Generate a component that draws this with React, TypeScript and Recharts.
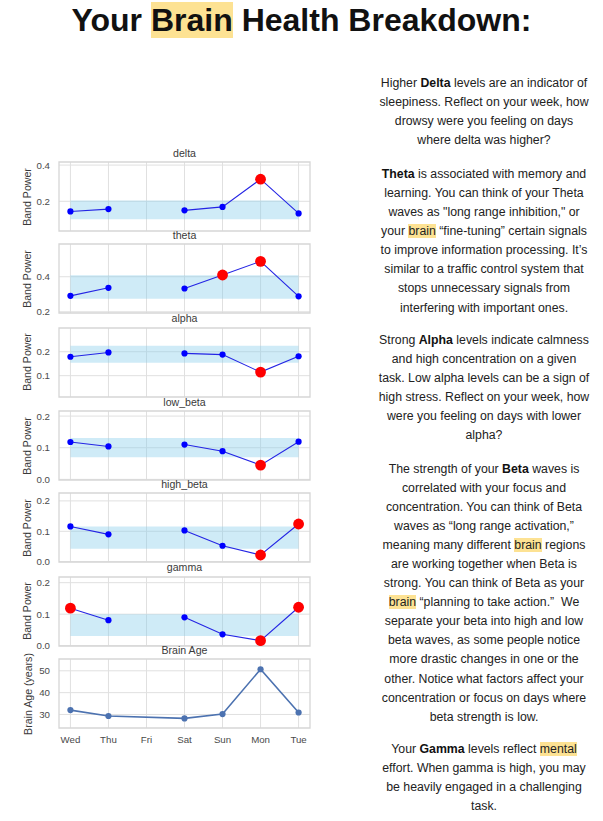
import React from 'react';
import { LineChart, Line, XAxis, YAxis, CartesianGrid, ReferenceArea } from 'recharts';

// ---------- data ----------
const days = ['Wed', 'Thu', 'Fri', 'Sat', 'Sun', 'Mon', 'Tue'];

const deltaValues = [0.144, 0.157, null, 0.15, 0.169, 0.322, 0.133];
const thetaValues = [0.291, 0.337, null, 0.333, 0.41, 0.488, 0.288];
const alphaValues = [0.179, 0.197, null, 0.193, 0.188, 0.115, 0.181];
const lowBetaValues = [0.118, 0.104, null, 0.11, 0.089, 0.045, 0.119];
const highBetaValues = [0.116, 0.09, null, 0.103, 0.0525, 0.022, 0.124];
const gammaValues = [0.119, 0.081, null, 0.09, 0.036, 0.016, 0.122];
const brainAgeValues = [32.0, 29.3, null, 28.2, 30.2, 50.7, 30.9];

const deltaHighlights = ['Mon'];
const thetaHighlights = ['Sun', 'Mon'];
const alphaHighlights = ['Mon'];
const lowBetaHighlights = ['Mon'];
const highBetaHighlights = ['Mon', 'Tue'];
const gammaHighlights = ['Wed', 'Mon', 'Tue'];

const deltaBand = [0.101, 0.204];
const thetaBand = [0.275, 0.408];
const alphaBand = [0.154, 0.225];
const lowBetaBand = [0.07, 0.131];
const highBetaBand = [0.043, 0.116];
const gammaBand = [0.031, 0.1];

const deltaTicks = [0.2, 0.4];
const thetaTicks = [0.2, 0.4];
const alphaTicks = [0.1, 0.2];
const lowBetaTicks = [0.0, 0.1, 0.2];
const highBetaTicks = [0.0, 0.1, 0.2];
const gammaTicks = [0.0, 0.1, 0.2];
const brainAgeTicks = [30, 40, 50];

const deltaDomain = [0.036, 0.417];
const thetaDomain = [0.193, 0.587];
const alphaDomain = [0.011, 0.299];
const lowBetaDomain = [-0.002, 0.216];
const highBetaDomain = [-0.001, 0.226];
const gammaDomain = [-0.001, 0.218];
const brainAgeDomain = [23.8, 55.4];

const xTicks = days.map((_, i) => i);

// ---------- text ----------
const titleParts = ['Your ', '[[Brain]]', ' Health Breakdown:'];

const para1 = [
  'Higher **Delta** levels are an indicator of',
  'sleepiness. Reflect on your week, how',
  'drowsy were you feeling on days',
  'where delta was higher?',
];
const para2 = [
  '**Theta** is associated with memory and',
  'learning. You can think of your Theta',
  'waves as "long range inhibition," or',
  'your [[brain]] \u201cfine-tuning\u201d certain signals',
  'to improve information processing. It\u2019s',
  'similar to a traffic control system that',
  'stops unnecessary signals from',
  'interfering with important ones.',
];
const para3 = [
  'Strong **Alpha** levels indicate calmness',
  'and high concentration on a given',
  'task. Low alpha levels can be a sign of',
  'high stress. Reflect on your week, how',
  'were you feeling on days with lower',
  'alpha?',
];
const para4 = [
  'The strength of your **Beta** waves is',
  'correlated with your focus and',
  'concentration. You can think of Beta',
  'waves as \u201clong range activation,\u201d',
  'meaning many different [[brain]] regions',
  'are working together when Beta is',
  'strong. You can think of Beta as your',
  '[[brain]] \u201cplanning to take action.\u201d  We',
  'separate your beta into high and low',
  'beta waves, as some people notice',
  'more drastic changes in one or the',
  'other. Notice what factors affect your',
  'concentration or focus on days where',
  'beta strength is low.',
];
const para5 = [
  'Your **Gamma** levels reflect [[mental]]',
  'effort. When gamma is high, you may',
  'be heavily engaged in a challenging',
  'task.',
];

// ---------- styles / layout ----------
const FONT = '"Liberation Sans", Arial, Helvetica, sans-serif';
const HIGHLIGHT = '#fde293';
const GRID = '#e0e0e0';
const SPINE = '#d6d6d6';
const LABEL_COLOR = '#3a3a3a';
const TICK_COLOR = '#4a4a4a';
const PLOT_H = 69;
const CHART_W = 320;
const Y_AXIS_W = 59;
const MARGIN = { top: 5, right: 10, bottom: 5, left: 0 };

function renderRich(line: string, key: number) {
  const parts = line.split(/(\*\*[^*]+\*\*|\[\[[^\]]+\]\])/).filter((p) => p.length > 0);
  return (
    <div key={key} style={{ whiteSpace: 'pre', height: 19.1, lineHeight: '19.1px' }}>
      {parts.map((p, i) => {
        if (p.startsWith('**')) return <b key={i} style={{ color: '#111' }}>{p.slice(2, -2)}</b>;
        if (p.startsWith('[[')) return <span key={i} style={{ background: HIGHLIGHT }}>{p.slice(2, -2)}</span>;
        return <span key={i}>{p}</span>;
      })}
    </div>
  );
}

function Paragraph({ lines, centerY }: { lines: string[]; centerY: number }) {
  return (
    <div
      style={{
        position: 'absolute',
        left: 364,
        width: 240,
        top: centerY - 9.8,
        textAlign: 'center',
        fontSize: 12.3,
        color: '#222',
        fontFamily: FONT,
      }}
    >
      {lines.map((l, i) => renderRich(l, i))}
    </div>
  );
}

function YLabel({ text, cx, cy }: { text: string; cx: number; cy: number }) {
  return (
    <div
      style={{
        position: 'absolute',
        left: cx,
        top: cy,
        transform: 'translate(-50%, -50%) rotate(-90deg)',
        whiteSpace: 'nowrap',
        fontSize: 10.6,
        color: LABEL_COLOR,
        lineHeight: '12px',
      }}
    >
      {text}
    </div>
  );
}

function PanelTitle({ text, plotTop }: { text: string; plotTop: number }) {
  return (
    <div
      style={{
        position: 'absolute',
        left: Y_AXIS_W,
        width: CHART_W - Y_AXIS_W - MARGIN.right,
        top: plotTop - 15.5,
        textAlign: 'center',
        fontSize: 10.6,
        lineHeight: '12px',
        color: LABEL_COLOR,
      }}
    >
      {text}
    </div>
  );
}

const renderBandDot = (props: any) => {
  const { cx, cy, payload, index } = props;
  if (cy == null || cx == null || payload == null || payload.v == null) return <g key={`d-${index}`} />;
  return (
    <circle
      key={`d-${index}`}
      cx={cx}
      cy={cy}
      r={payload.hl ? 5.4 : 3.1}
      fill={payload.hl ? '#ff0000' : '#0000ff'}
      stroke="none"
    />
  );
};

type BandProps = {
  title: string;
  values: (number | null)[];
  highlights: string[];
  band: number[];
  ticks: number[];
  domain: number[];
  plotTop: number;
};

function BandPanel({ title, values, highlights, band, ticks, domain, plotTop }: BandProps) {
  const data = days.map((d, i) => ({ x: i, day: d, v: values[i], hl: highlights.includes(d) }));
  return (
    <>
      <PanelTitle text={title} plotTop={plotTop} />
      <YLabel text="Band Power" cx={26.7} cy={plotTop + PLOT_H / 2} />
      <div style={{ position: 'absolute', left: 0, top: plotTop - MARGIN.top }}>
        <LineChart width={CHART_W} height={PLOT_H + MARGIN.top + MARGIN.bottom} data={data} margin={MARGIN}>
          <CartesianGrid stroke={GRID} strokeWidth={1} verticalValues={xTicks} horizontalValues={ticks} />
          <XAxis
            type="number"
            dataKey="x"
            domain={[-0.3, 6.3]}
            ticks={xTicks}
            hide
            allowDataOverflow
          />
          <YAxis
            type="number"
            domain={domain}
            ticks={ticks}
            interval={0}
            allowDataOverflow
            width={Y_AXIS_W}
            tickFormatter={(v: number) => v.toFixed(1)}
            tick={{ fontSize: 9.7, fill: TICK_COLOR }}
            tickLine={false}
            tickSize={0}
            tickMargin={9}
            axisLine={false}
          />
          <ReferenceArea x1={0} x2={6} y1={band[0]} y2={band[1]} fill="#87ceeb" fillOpacity={0.4} stroke="none" />
          <ReferenceArea
            x1={-0.3}
            x2={6.3}
            y1={domain[0]}
            y2={domain[1]}
            fill="none"
            stroke={SPINE}
            strokeWidth={1.3}
          />
          <Line
            dataKey="v"
            stroke="none"
            dot={renderBandDot}
            activeDot={false}
            isAnimationActive={false}
          />
          <Line
            dataKey="v"
            stroke="#2424e4"
            strokeWidth={1.1}
            dot={false}
            activeDot={false}
            isAnimationActive={false}
          />
        </LineChart>
      </div>
    </>
  );
}

function BrainAgePanel({ plotTop }: { plotTop: number }) {
  const data = days.map((d, i) => ({ x: i, day: d, v: brainAgeValues[i] }));
  const xh = 30;
  return (
    <>
      <PanelTitle text="Brain Age" plotTop={plotTop} />
      <YLabel text="Brain Age (years)" cx={27.5} cy={plotTop + PLOT_H / 2} />
      <div style={{ position: 'absolute', left: 0, top: plotTop - MARGIN.top }}>
        <LineChart width={CHART_W} height={PLOT_H + MARGIN.top + MARGIN.bottom + xh} data={data} margin={MARGIN}>
          <CartesianGrid stroke={GRID} strokeWidth={1} verticalValues={xTicks} horizontalValues={brainAgeTicks} />
          <XAxis
            type="number"
            dataKey="x"
            domain={[-0.3, 6.3]}
            ticks={xTicks}
            interval={0}
            tickFormatter={(i: number) => days[i]}
            tick={{ fontSize: 9.7, fill: TICK_COLOR }}
            tickLine={false}
            tickSize={0}
            tickMargin={8}
            axisLine={false}
            height={xh}
            allowDataOverflow
          />
          <YAxis
            type="number"
            domain={brainAgeDomain}
            ticks={brainAgeTicks}
            interval={0}
            allowDataOverflow
            width={Y_AXIS_W}
            tick={{ fontSize: 9.7, fill: TICK_COLOR }}
            tickLine={false}
            tickSize={0}
            tickMargin={9}
            axisLine={false}
          />
          <ReferenceArea
            x1={-0.3}
            x2={6.3}
            y1={brainAgeDomain[0]}
            y2={brainAgeDomain[1]}
            fill="none"
            stroke={SPINE}
            strokeWidth={1.3}
          />
          <Line
            dataKey="v"
            stroke="#4c72b0"
            strokeWidth={1.6}
            connectNulls
            dot={{ r: 3.1, fill: '#4c72b0', stroke: 'none' }}
            activeDot={false}
            isAnimationActive={false}
          />
        </LineChart>
      </div>
    </>
  );
}

export default function App() {
  return (
    <div
      style={{
        position: 'absolute',
        left: 0,
        top: 0,
        width: 603,
        height: 821,
        background: '#fff',
        fontFamily: FONT,
        overflow: 'hidden',
      }}
    >
      <div
        style={{
          position: 'absolute',
          left: 0,
          width: 603,
          top: 1.5,
          textAlign: 'center',
          fontSize: 32,
          fontWeight: 'bold',
          color: '#111',
          whiteSpace: 'pre',
        }}
      >
        {titleParts.map((p, i) =>
          p.startsWith('[[') ? (
            <span key={i} style={{ background: HIGHLIGHT }}>{p.slice(2, -2)}</span>
          ) : (
            <span key={i}>{p}</span>
          )
        )}
      </div>

      <BandPanel title="delta" values={deltaValues} highlights={deltaHighlights} band={deltaBand} ticks={deltaTicks} domain={deltaDomain} plotTop={162} />
      <BandPanel title="theta" values={thetaValues} highlights={thetaHighlights} band={thetaBand} ticks={thetaTicks} domain={thetaDomain} plotTop={244} />
      <BandPanel title="alpha" values={alphaValues} highlights={alphaHighlights} band={alphaBand} ticks={alphaTicks} domain={alphaDomain} plotTop={327.5} />
      <BandPanel title="low_beta" values={lowBetaValues} highlights={lowBetaHighlights} band={lowBetaBand} ticks={lowBetaTicks} domain={lowBetaDomain} plotTop={411} />
      <BandPanel title="high_beta" values={highBetaValues} highlights={highBetaHighlights} band={highBetaBand} ticks={highBetaTicks} domain={highBetaDomain} plotTop={493} />
      <BandPanel title="gamma" values={gammaValues} highlights={gammaHighlights} band={gammaBand} ticks={gammaTicks} domain={gammaDomain} plotTop={576.5} />
      <BrainAgePanel plotTop={659} />

      <Paragraph lines={para1} centerY={83.3} />
      <Paragraph lines={para2} centerY={174.7} />
      <Paragraph lines={para3} centerY={340.7} />
      <Paragraph lines={para4} centerY={469.3} />
      <Paragraph lines={para5} centerY={749.3} />
    </div>
  );
}
